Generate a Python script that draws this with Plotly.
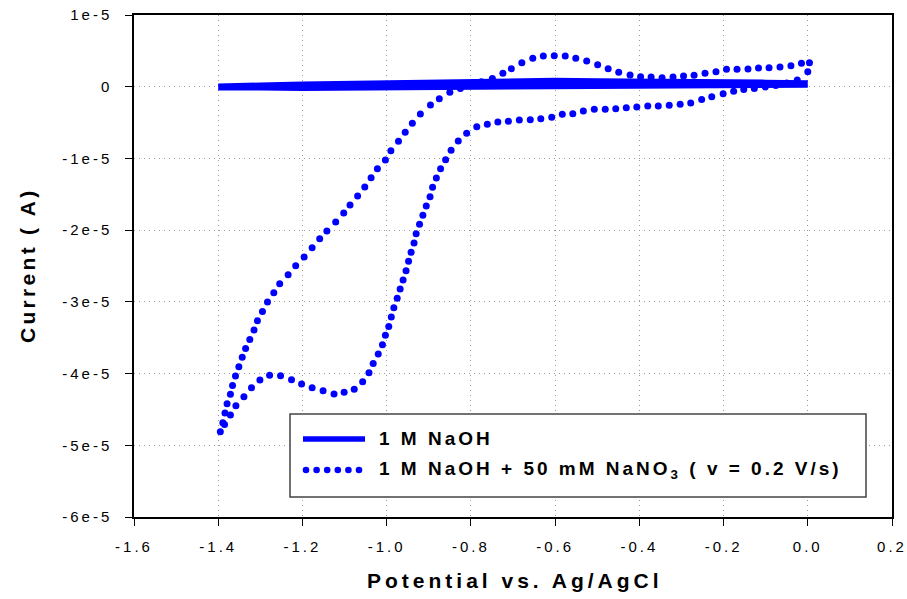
import plotly.graph_objects as go

# ---------------- data (potential in V vs Ag/AgCl, current in microamps) ----------------
# 1 M NaOH : cathodic sweep (0 -> -1.4 V)
naoh_cath_E = [0.0, -0.1, -0.2, -0.3, -0.4, -0.5, -0.6, -0.7, -0.8, -0.9, -1.0, -1.05, -1.1, -1.2, -1.3, -1.4]
naoh_cath_I = [0.35, 0.3, 0.25, 0.2, 0.15, 0.15, 0.15, 0.1, 0.05, -0.05, -0.2, -0.25, -0.2, -0.1, -0.05, -0.05]
# 1 M NaOH : anodic sweep (-1.4 -> 0 V)
naoh_anod_E = [-1.4, -1.3, -1.2, -1.1, -1.0, -0.9, -0.8, -0.7, -0.6, -0.5, -0.4, -0.3, -0.2, -0.1, 0.0]
naoh_anod_I = [-0.05, 0.1, 0.25, 0.35, 0.45, 0.55, 0.65, 0.75, 0.75, 0.7, 0.7, 0.65, 0.55, 0.5, 0.4]

# 1 M NaOH + 50 mM NaNO3 : cathodic sweep (0 -> -1.4 V)
nitrate_cath_E = [0.000, -0.025, -0.050, -0.076, -0.101, -0.127, -0.152, -0.176, -0.201, -0.228,
                  -0.252, -0.278, -0.303, -0.329, -0.355, -0.380, -0.406, -0.431, -0.456, -0.481,
                  -0.507, -0.533, -0.558, -0.583, -0.608, -0.634, -0.659, -0.685, -0.711, -0.736,
                  -0.761, -0.786, -0.810, -0.830, -0.847, -0.860, -0.872, -0.882, -0.891, -0.897,
                  -0.906, -0.914, -0.922, -0.930, -0.935, -0.942, -0.948, -0.954, -0.961, -0.968,
                  -0.975, -0.983, -0.989, -0.995, -1.003, -1.010, -1.020, -1.032, -1.042, -1.057,
                  -1.077, -1.101, -1.125, -1.151, -1.177, -1.202, -1.226, -1.252, -1.278, -1.301,
                  -1.321, -1.339, -1.358, -1.371, -1.385, -1.395]
nitrate_cath_I = [2.09, 0.93, 0.52, 0.17, -0.04, -0.25, -0.39, -0.63, -0.99, -1.39,
                  -1.80, -2.27, -2.45, -2.59, -2.69, -2.69, -2.83, -2.93, -3.07, -3.15,
                  -3.15, -3.39, -3.77, -3.85, -4.27, -4.46, -4.60, -4.64, -4.81, -4.92,
                  -5.24, -5.58, -6.49, -7.57, -8.87, -10.18, -11.44, -12.73, -14.03, -15.34,
                  -16.64, -17.94, -19.19, -20.50, -21.80, -23.10, -24.35, -25.66, -26.96, -28.22,
                  -29.51, -30.82, -32.12, -33.42, -34.67, -35.98, -37.28, -38.58, -39.89, -41.14,
                  -42.20, -42.62, -42.86, -42.40, -41.98, -41.46, -40.86, -40.31, -40.25, -40.91,
                  -41.98, -43.24, -44.49, -45.79, -47.09, -48.12]
# 1 M NaOH + 50 mM NaNO3 : anodic sweep (-1.4 -> 0 V)
nitrate_anod_E = [-1.389, -1.384, -1.379, -1.371, -1.366, -1.359, -1.351, -1.343, -1.335, -1.325,
                  -1.315, -1.307, -1.295, -1.283, -1.268, -1.254, -1.234, -1.216, -1.196, -1.177,
                  -1.159, -1.142, -1.121, -1.102, -1.087, -1.069, -1.052, -1.037, -1.022, -1.003,
                  -0.990, -0.972, -0.956, -0.939, -0.920, -0.896, -0.875, -0.850, -0.825, -0.800,
                  -0.775, -0.749, -0.724, -0.704, -0.679, -0.653, -0.628, -0.602, -0.576, -0.551,
                  -0.525, -0.499, -0.474, -0.449, -0.422, -0.397, -0.372, -0.346, -0.320, -0.295,
                  -0.270, -0.244, -0.218, -0.193, -0.168, -0.142, -0.117, -0.092, -0.066, -0.040,
                  -0.015, 0.004]
nitrate_anod_I = [-46.86, -45.51, -44.21, -42.90, -41.65, -40.35, -39.05, -37.74, -36.49, -35.26,
                  -33.93, -32.64, -31.33, -30.03, -28.73, -27.48, -26.22, -24.97, -23.75, -22.45,
                  -21.20, -20.13, -18.87, -17.62, -16.50, -15.24, -13.99, -12.69, -11.44, -10.22,
                  -8.93, -7.62, -6.36, -5.10, -3.81, -2.55, -1.67, -0.78, -0.25, 0.24,
                  0.68, 1.14, 1.87, 2.51, 3.35, 3.96, 4.28, 4.32, 4.28, 3.96,
                  3.58, 3.07, 2.51, 2.01, 1.63, 1.39, 1.35, 1.26, 1.35, 1.49,
                  1.59, 1.87, 2.09, 2.43, 2.43, 2.47, 2.61, 2.65, 2.75, 2.93,
                  3.26, 3.35]

x_ticks = [-1.6, -1.4, -1.2, -1.0, -0.8, -0.6, -0.4, -0.2, 0.0, 0.2]
y_ticks = [-6e-5, -5e-5, -4e-5, -3e-5, -2e-5, -1e-5, 0, 1e-5]
y_tick_labels = ["-6e-5", "-5e-5", "-4e-5", "-3e-5", "-2e-5", "-1e-5", "0", "1e-5"]

legend_labels = ["1 M NaOH", "1 M NaOH + 50 mM NaNO<sub>3</sub> ( v = 0.2 V/s)"]
x_title = "Potential vs. Ag/AgCl"
y_title = "Current ( A)"

BLUE = "#0000FF"
UA = 1e-6

def sp(t, s=3):
    return f'<span style="letter-spacing:{s}px">{t}</span>'

fig = go.Figure()
fig.add_trace(go.Scatter(x=naoh_cath_E + naoh_anod_E,
                         y=[v * UA for v in naoh_cath_I + naoh_anod_I],
                         mode="lines", line=dict(color=BLUE, width=7),
                         showlegend=False, hoverinfo="skip"))
fig.add_trace(go.Scatter(x=nitrate_cath_E + nitrate_anod_E,
                         y=[v * UA for v in nitrate_cath_I + nitrate_anod_I],
                         mode="markers", marker=dict(color=BLUE, size=7, line=dict(width=0)),
                         showlegend=False, hoverinfo="skip"))

# the page's body margin is removed (post_script below), so the figure fills the window
W, H = 907, 599
L, T = 134, 15
PW, PH = 758, 502
R, B = W - L - PW, H - T - PH

def px(p):  # window pixel -> paper x
    return (p - L) / PW

def py(p):  # window pixel -> paper y
    return (T + PH - p) / PH

axis_common = dict(showline=True, linecolor="black", linewidth=1.5, mirror=True,
                   ticks="outside", ticklen=7, tickwidth=1.2, tickcolor="black",
                   showgrid=True, gridcolor="#9a9a9a", gridwidth=1, griddash="1px,4px",
                   zeroline=False, ticklabeloverflow="allow",
                   tickfont=dict(family="Liberation Sans, Arial", size=15, color="black"))

fig.update_xaxes(range=[-1.6, 0.2], tickvals=x_ticks,
                 ticktext=[sp(f"{v:.1f}") for v in x_ticks], ticklabelstandoff=8, **axis_common)
fig.update_yaxes(range=[-6e-5, 1e-5], tickvals=y_ticks,
                 ticktext=[sp(t) for t in y_tick_labels], ticklabelstandoff=10, **axis_common)

shapes = [
    dict(type="rect", xref="paper", yref="paper", x0=px(290), x1=px(866), y0=py(497), y1=py(414),
         line=dict(color="#444444", width=1.5), fillcolor="white", layer="above"),
    dict(type="line", xref="paper", yref="paper", x0=px(303), x1=px(365), y0=py(439), y1=py(439),
         line=dict(color=BLUE, width=5.5), layer="above"),
]
for i in range(6):
    cx = px(306 + 10.6 * i)
    shapes.append(dict(type="circle", xref="paper", yref="paper", xsizemode="pixel", ysizemode="pixel",
                       xanchor=cx, yanchor=py(470), x0=-3.3, x1=3.3, y0=-3.3, y1=3.3,
                       fillcolor=BLUE, line=dict(width=0), layer="above"))

bold = dict(family="Liberation Sans, Arial", size=19, color="black")
annotations = [
    dict(text="<b>" + sp(legend_labels[0]) + "</b>", xref="paper", yref="paper", x=px(377), y=py(438),
         xanchor="left", yanchor="middle", showarrow=False, font=bold),
    dict(text="<b>" + sp(legend_labels[1]) + "</b>", xref="paper", yref="paper", x=px(377), y=py(470),
         xanchor="left", yanchor="middle", showarrow=False, font=bold),
    dict(text="<b>" + sp(x_title, 4) + "</b>", xref="paper", yref="paper", x=px(514.5), y=py(580),
         xanchor="center", yanchor="middle", showarrow=False,
         font=dict(family="Liberation Sans, Arial", size=21, color="black")),
    dict(text="<b>" + sp(y_title, 3.3) + "</b>", xref="paper", yref="paper", x=px(27), y=py(266),
         xanchor="center", yanchor="middle", textangle=-90, showarrow=False,
         font=dict(family="Liberation Sans, Arial", size=21, color="black")),
]

fig.update_layout(width=W, height=H, margin=dict(l=L, r=R, t=T, b=B, autoexpand=False),
                  paper_bgcolor="white", plot_bgcolor="white", showlegend=False,
                  shapes=shapes, annotations=annotations,
                  font=dict(family="Liberation Sans, Arial", color="black"))

fig.write_html("out.html", config=dict(displayModeBar=False),
               post_script="document.body.style.margin='0';document.body.style.overflow='hidden';")
